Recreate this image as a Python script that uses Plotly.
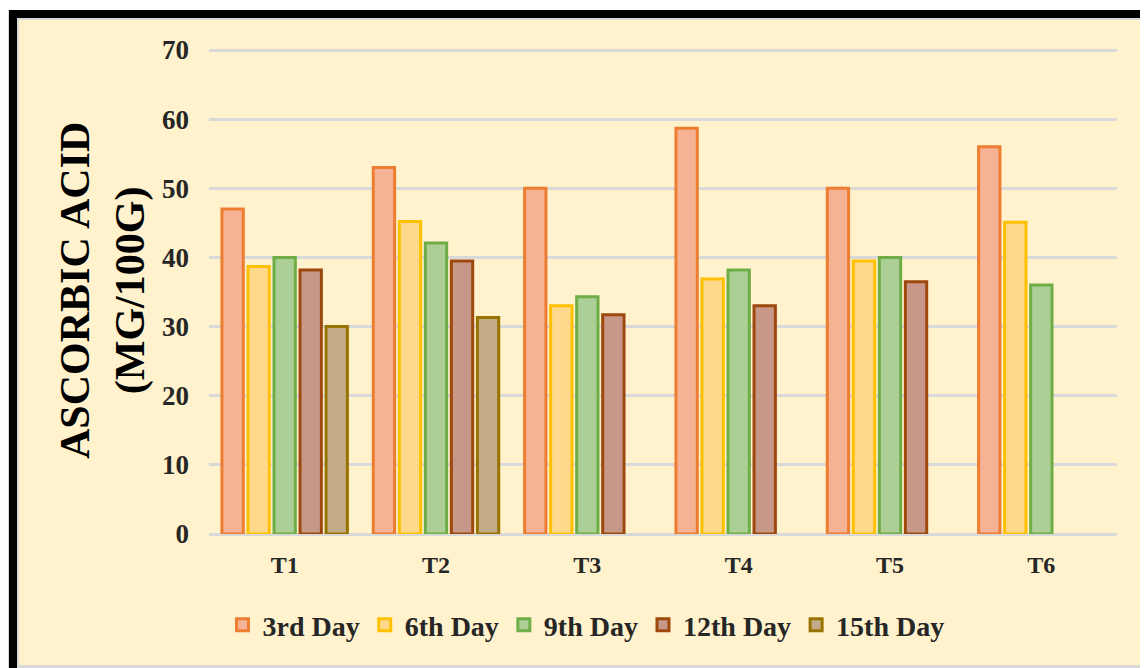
import plotly.graph_objects as go

W, H = 1148, 668
OFF = 8  # page body margin offset: screen px = figure px + OFF
# plot area in screen pixels
SX0, SX1, SY0, SY1 = 209, 1117, 49, 534
L, R, T, B = SX0 - OFF, W - (SX1 - OFF), SY0 - OFF, H - (SY1 - OFF)

categories = ["T1", "T2", "T3", "T4", "T5", "T6"]
series_names = ["3rd Day", "6th Day", "9th Day", "12th Day", "15th Day"]
day3 = [47.0, 53.0, 50.0, 58.7, 50.0, 56.0]
day6 = [38.7, 45.2, 33.0, 36.9, 39.5, 45.1]
day9 = [40.0, 42.1, 34.3, 38.2, 40.0, 36.0]
day12 = [38.2, 39.5, 31.7, 33.0, 36.5, None]
day15 = [30.0, 31.3, None, None, None, None]
y_ticks = [0, 10, 20, 30, 40, 50, 60, 70]

fills = ["#F6B294", "#FED98C", "#ABCF95", "#C79787", "#C4AB87"]
lines = ["#ED7D31", "#FFC000", "#70AD47", "#9E480E", "#997300"]
values = [day3, day6, day9, day12, day15]

serif = "Liberation Serif"

fig = go.Figure()
for name, vals, fc, lc in zip(series_names, values, fills, lines):
    fig.add_trace(go.Bar(
        x=categories, y=vals, name=name,
        marker=dict(color=fc, line=dict(color=lc, width=3)),
    ))

pw = SX1 - SX0
ph = SY1 - SY0
def px_x(p):
    return (p - SX0) / pw
def px_y(p):
    return (SY1 - p) / ph

shapes = [
    dict(type="rect", xref="paper", yref="paper", layer="below",
         x0=px_x(8), x1=px_x(W + 20), y0=px_y(H + 20), y1=px_y(10),
         fillcolor="#D9D9D9", line=dict(width=0)),
    dict(type="rect", xref="paper", yref="paper", layer="below",
         x0=px_x(9), x1=px_x(W + 20), y0=px_y(H + 20), y1=px_y(10),
         fillcolor="#000000", line=dict(width=0)),
    dict(type="rect", xref="paper", yref="paper", layer="below",
         x0=px_x(17), x1=px_x(W + 20), y0=px_y(H + 20), y1=px_y(18),
         fillcolor="#D9D9D9", line=dict(width=0)),
    dict(type="rect", xref="paper", yref="paper", layer="below",
         x0=px_x(19), x1=px_x(W + 20), y0=px_y(665), y1=px_y(20),
         fillcolor="#FFF2CC", line=dict(width=0)),
]

fig.update_layout(
    width=W, height=H,
    margin=dict(l=L, r=R, t=T, b=B, pad=0),
    paper_bgcolor="#FFFFFF",
    plot_bgcolor="rgba(0,0,0,0)",
    barmode="group",
    bargap=0.14,
    bargroupgap=0.18,
    shapes=shapes,
    font=dict(family=serif, color="#262626"),
    showlegend=True,
    legend=dict(
        orientation="h", x=px_x(586), xanchor="center",
        y=px_y(625), yanchor="middle",
        font=dict(family=serif, size=28, color="#262626", weight="bold"),
        bgcolor="rgba(0,0,0,0)",
        traceorder="normal",
    ),
    xaxis=dict(
        showgrid=False, showline=False, ticks="",
        tickfont=dict(family=serif, size=24, color="#262626", weight="bold"),
        ticklabelstandoff=14,
    ),
    yaxis=dict(
        range=[0, 70.15], tickvals=y_ticks, ticktext=[str(v) for v in y_ticks],
        showgrid=True, gridcolor="#D9D9D9", gridwidth=2.5,
        zeroline=True, zerolinecolor="#D9D9D9", zerolinewidth=2.5,
        showline=False, ticks="",
        tickfont=dict(family=serif, size=27, color="#262626", weight="bold"),
        ticklabelstandoff=19,
    ),
    annotations=[dict(
        text="ASCORBIC ACID<br>(MG/100G)", xref="paper", yref="paper",
        x=px_x(103), y=px_y(291), xanchor="center", yanchor="middle",
        textangle=-90, showarrow=False,
        font=dict(family=serif, size=42, color="#000000", weight="bold"),
    )],
)

fig.write_html("out.html")
